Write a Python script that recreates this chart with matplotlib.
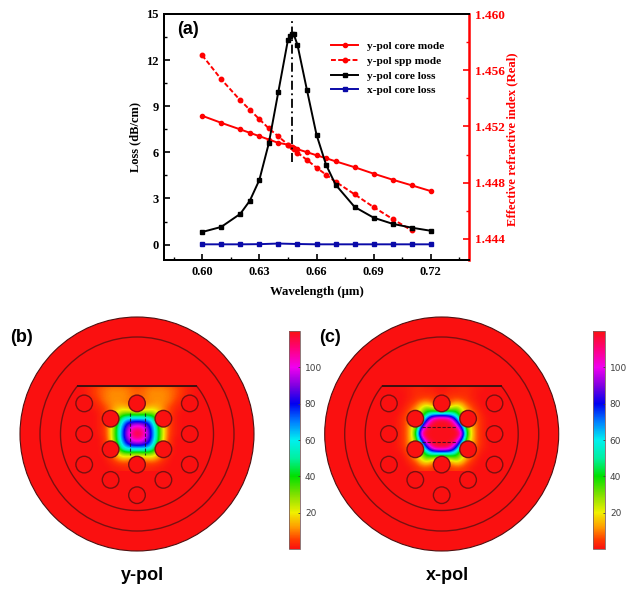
import matplotlib
matplotlib.use("Agg")
import matplotlib.pyplot as plt
import numpy as np
from matplotlib.colors import LinearSegmentedColormap, Normalize
from matplotlib.cm import ScalarMappable
from matplotlib.patches import Circle, Polygon

# panel (a) data
wl_core = [0.60, 0.61, 0.62, 0.625, 0.63, 0.635, 0.64, 0.645, 0.647, 0.648, 0.65,
           0.655, 0.66, 0.665, 0.67, 0.68, 0.69, 0.70, 0.71, 0.72]
n_core = [1.45276, 1.45226, 1.45179, 1.45155, 1.45131, 1.45107, 1.45083, 1.45071, 1.45057, 1.4505,
          1.45038, 1.45017, 1.44995, 1.44974, 1.44952, 1.4491, 1.44864, 1.44821, 1.44781, 1.4474]
wl_spp = [0.60, 0.61, 0.62, 0.625, 0.63, 0.635, 0.64, 0.645, 0.647, 0.648, 0.65,
          0.655, 0.66, 0.665, 0.67, 0.68, 0.69, 0.70, 0.71]
n_spp = [1.45707, 1.45536, 1.45386, 1.45319, 1.45252, 1.45186, 1.45129, 1.45071, 1.45052, 1.45043,
         1.45014, 1.44962, 1.44907, 1.44857, 1.44807, 1.44717, 1.44626, 1.44541, 1.4446]
wl_loss = [0.60, 0.61, 0.62, 0.625, 0.63, 0.635, 0.64, 0.645, 0.646, 0.647, 0.648, 0.65,
           0.655, 0.66, 0.665, 0.67, 0.68, 0.69, 0.70, 0.71, 0.72]
loss_y = [0.82, 1.15, 2.0, 2.85, 4.2, 6.6, 9.95, 13.3, 13.55, 13.7, 13.7, 13.0,
          10.05, 7.15, 5.2, 3.9, 2.45, 1.75, 1.35, 1.1, 0.9]
wl_x = [0.60, 0.61, 0.62, 0.63, 0.64, 0.65, 0.66, 0.67, 0.68, 0.69, 0.70, 0.71, 0.72]
loss_x = [0.02, 0.02, 0.02, 0.03, 0.07, 0.04, 0.02, 0.02, 0.02, 0.02, 0.02, 0.02, 0.02]
peak_wl = [0.647, 0.647]
peak_span = [5.4, 14.6]

# panels (b), (c): field, right half only, 5 px grid
field_x = list(range(0, 65, 5))
field_y = list(range(-50, 40, 5))
field_ypol = [
    [3, 3, 4, 5, 6, 6, 5, 4, 3, 2, 1, 0, 0],
    [7, 8, 9, 10, 10, 10, 9, 8, 6, 4, 2, 1, 0],
    [8, 8, 10, 11, 11, 11, 10, 8, 6, 4, 2, 1, 0],
    [8, 9, 10, 11, 11, 11, 10, 8, 5, 3, 1, 0, 0],
    [9, 10, 10, 11, 12, 11, 9, 6, 3, 2, 1, 0, 0],
    [12, 13, 15, 18, 15, 11, 7, 4, 2, 1, 0, 0, 0],
    [30, 32, 32, 30, 22, 13, 7, 3, 1, 0, 0, 0, 0],
    [62, 62, 60, 52, 32, 16, 7, 3, 1, 0, 0, 0, 0],
    [92, 90, 82, 64, 40, 21, 8, 3, 1, 0, 0, 0, 0],
    [110, 106, 92, 72, 45, 24, 8, 3, 1, 0, 0, 0, 0],
    [118, 112, 96, 74, 46, 24, 8, 3, 1, 0, 0, 0, 0],
    [110, 106, 92, 72, 45, 23, 7, 2, 0, 0, 0, 0, 0],
    [92, 90, 82, 64, 40, 19, 6, 2, 0, 0, 0, 0, 0],
    [62, 62, 60, 52, 32, 14, 5, 1, 0, 0, 0, 0, 0],
    [30, 32, 32, 30, 18, 9, 3, 1, 0, 0, 0, 0, 0],
    [10, 11, 13, 14, 10, 5, 2, 0, 0, 0, 0, 0, 0],
    [5, 5, 5, 5, 4, 2, 1, 0, 0, 0, 0, 0, 0],
    [2, 2, 2, 2, 1, 1, 0, 0, 0, 0, 0, 0, 0],
]
field_xpol = [
    [0, 0, 1, 1, 1, 1, 1, 1, 0, 0, 0, 0, 0],
    [1, 1, 2, 2, 3, 3, 2, 1, 1, 0, 0, 0, 0],
    [1, 2, 3, 3, 3, 3, 2, 1, 0, 0, 0, 0, 0],
    [3, 4, 5, 6, 5, 4, 2, 1, 0, 0, 0, 0, 0],
    [6, 8, 10, 14, 12, 7, 4, 2, 0, 0, 0, 0, 0],
    [20, 22, 26, 32, 22, 12, 7, 3, 1, 0, 0, 0, 0],
    [55, 55, 54, 44, 28, 16, 10, 5, 2, 0, 0, 0, 0],
    [113, 112, 100, 70, 38, 20, 12, 6, 3, 1, 0, 0, 0],
    [119, 119, 116, 98, 60, 28, 15, 7, 3, 1, 0, 0, 0],
    [119, 119, 119, 116, 88, 36, 17, 7, 3, 1, 0, 0, 0],
    [119, 119, 119, 119, 110, 45, 18, 7, 3, 1, 0, 0, 0],
    [119, 119, 119, 116, 88, 36, 17, 7, 3, 1, 0, 0, 0],
    [119, 119, 116, 98, 60, 28, 15, 7, 3, 1, 0, 0, 0],
    [113, 112, 100, 70, 38, 20, 12, 6, 2, 1, 0, 0, 0],
    [55, 55, 54, 44, 28, 16, 10, 4, 1, 0, 0, 0, 0],
    [20, 22, 26, 32, 22, 12, 6, 2, 0, 0, 0, 0, 0],
    [6, 8, 10, 14, 12, 6, 3, 1, 0, 0, 0, 0, 0],
    [2, 3, 4, 5, 4, 3, 1, 0, 0, 0, 0, 0, 0],
]
cbar_ticks = [20, 40, 60, 80, 100]

RED = "#fa1010"
RING = "#7a1010"
stops = [(0, RED), (5, "#ff3c00"), (12, "#ff9c00"), (20, "#f0f000"), (30, "#80e000"),
         (40, "#00e000"), (50, "#00f0a0"), (60, "#00f0f0"), (70, "#0080ff"), (80, "#0000f0"),
         (90, "#8000e0"), (100, "#f000f0"), (110, "#ff0080"), (120, RED)]
cmap = LinearSegmentedColormap.from_list("mode", [(v / 120, c) for v, c in stops], N=512)
norm = Normalize(0, 120)

W, H = 628, 589
fig = plt.figure(figsize=(W / 100, H / 100), dpi=100)
serif = "Liberation Serif"
sans = "Liberation Sans"


def box(x0, y0, x1, y1):
    return [x0 / W, 1 - y1 / H, (x1 - x0) / W, (y1 - y0) / H]


# panel (a)
ax = fig.add_axes(box(164, 14, 469, 260))
ax2 = ax.twinx()
ax.set_zorder(ax2.get_zorder() + 1)
ax.patch.set_visible(False)

l1, = ax2.plot(wl_core, n_core, "-o", color="red", lw=1.4, ms=3)
l2, = ax2.plot(wl_spp, n_spp, "--o", color="red", lw=1.4, ms=3.2, dashes=(2.5, 1.2))
l3, = ax.plot(wl_loss, loss_y, "-s", color="black", lw=1.4, ms=2.8)
l4, = ax.plot(wl_x, loss_x, "-s", color="#0a0aa8", lw=1.4, ms=3.2)
ax.plot(peak_wl, peak_span, color="black", lw=1.3, ls=(0, (5, 2, 1, 2)))

ax.set_xlim(0.58, 0.74)
ax.set_ylim(-1, 15)
ax2.set_ylim(1.4425, 1.46)
ax.set_xticks([0.60, 0.63, 0.66, 0.69, 0.72])
ax.set_xticks([0.585, 0.615, 0.645, 0.675, 0.705, 0.735], minor=True)
ax.set_yticks([0, 3, 6, 9, 12, 15])
ax.set_yticks([1.5, 4.5, 7.5, 10.5, 13.5], minor=True)
ax2.set_yticks([1.444, 1.448, 1.452, 1.456, 1.460])
ax2.set_yticks([1.446, 1.450, 1.454, 1.458], minor=True)
ax.set_xticklabels(["0.60", "0.63", "0.66", "0.69", "0.72"], family=serif, weight="bold", fontsize=9)
ax.set_yticklabels(["0", "3", "6", "9", "12", "15"], family=serif, weight="bold", fontsize=9)
ax2.set_yticklabels(["1.444", "1.448", "1.452", "1.456", "1.460"], family=serif, weight="bold",
                    fontsize=9.5, color="red")
ax.tick_params(which="major", direction="in", length=4, width=1.2, pad=4)
ax.tick_params(which="minor", direction="in", length=2.2, width=1)
ax2.tick_params(which="major", direction="in", length=4, width=1.2, color="red", pad=4)
ax2.tick_params(which="minor", direction="in", length=2.2, width=1, color="red")
for a in (ax, ax2):
    for s in a.spines.values():
        s.set_linewidth(1.4)
ax2.spines["right"].set_color("red")
ax2.spines["right"].set_linewidth(1.8)
ax.spines["right"].set_visible(False)
ax.set_xlabel("Wavelength (μm)", family=serif, weight="bold", fontsize=9.2, labelpad=6)
ax.set_ylabel("Loss (dB/cm)", family=serif, weight="bold", fontsize=9, labelpad=3)
ax2.set_ylabel("Effective refractive index (Real)", family=serif, weight="bold", fontsize=9.2,
               color="red", labelpad=1, y=0.49)
ax.legend([l1, l2, l3, l4], ["y-pol core mode", "y-pol spp mode", "y-pol core loss", "x-pol core loss"],
          loc="upper left", bbox_to_anchor=(0.547, 0.89), frameon=False, borderpad=0, borderaxespad=0,
          handlelength=2.4, handletextpad=0.8, labelspacing=0.42,
          prop={"family": serif, "weight": "bold", "size": 8.2})
fig.text(177 / W, 1 - 30 / H, "(a)", family=sans, weight="bold", fontsize=13, va="center")

# panels (b), (c) drawn in pixel coordinates
pix = fig.add_axes([0, 0, 1, 1])
pix.set_axis_off()


def fibre(cx, cy, half_rows, line_segs):
    pix.add_patch(Circle((cx, cy), 117, fc=RED, ec="#501010", lw=0.8, zorder=1))
    rows = np.array(half_rows, dtype=float)
    full = np.hstack([rows[:, :0:-1], rows])
    dx, dy = field_x[-1] + 2.5, 2.5
    im = pix.imshow(full, cmap=cmap, norm=norm, interpolation="bicubic", interpolation_stage="data",
                    extent=(cx - dx, cx + dx, cy + field_y[-1] + dy, cy + field_y[0] - dy),
                    aspect="auto", zorder=2)
    th0 = np.arcsin(48 / 76.5)
    th = np.linspace(-th0, np.pi + th0, 200)
    d_shape = Polygon(np.c_[cx + 76.5 * np.cos(th), cy + 76.5 * np.sin(th)], closed=True,
                      fc="none", ec=RING, lw=1, zorder=4)
    pix.add_patch(d_shape)
    im.set_clip_path(d_shape)
    pix.plot([cx - 59, cx + 59], [cy - 48, cy - 48], color="#401010", lw=1.4, zorder=5)
    pix.add_patch(Circle((cx, cy), 97, fc="none", ec=RING, lw=1, zorder=4))
    pitch = 30.6
    for col, row in [(0, -1), (-2, -1), (2, -1), (-1, -.5), (1, -.5), (-2, 0), (2, 0), (-1, .5), (1, .5),
                     (0, 1), (-2, 1), (2, 1), (-1, 1.5), (1, 1.5), (0, 2)]:
        pix.add_patch(Circle((cx + col * 26.4, cy + row * pitch), 8.3, fc=RED, ec=RING, lw=1, zorder=4))
    for x0, y0, x1, y1 in line_segs:
        pix.plot([cx + x0, cx + x1], [cy + y0, cy + y1], color="#201020", lw=0.8, ls=(0, (3, 1.5)),
                 alpha=0.8, zorder=5)


fibre(137, 434, field_ypol, [(-7.5, -21, -7.5, 21), (7.5, -21, 7.5, 21)])
fibre(441.7, 434, field_xpol, [(-20, -7, 15, -7), (-20, 8, 15, 8)])
pix.set_xlim(0, W)
pix.set_ylim(H, 0)

for x0, x1 in [(289, 300), (593, 605)]:
    cax = fig.add_axes(box(x0, 331, x1, 549))
    cb = fig.colorbar(ScalarMappable(norm=Normalize(0.2, 119.8), cmap=cmap), cax=cax)
    cb.set_ticks(cbar_ticks)
    cb.ax.tick_params(direction="in", length=1.5, width=0.6, colors="#404040", labelsize=6.5, pad=3.5)
    cb.outline.set_edgecolor("#806060")
    cb.outline.set_linewidth(0.6)

fig.text(10 / W, 1 - 337 / H, "(b)", family=sans, weight="bold", fontsize=13, va="center")
fig.text(319 / W, 1 - 337 / H, "(c)", family=sans, weight="bold", fontsize=13, va="center")
fig.text(142 / W, 1 - 576 / H, "y-pol", family=sans, weight="bold", fontsize=13, ha="center", va="center")
fig.text(447 / W, 1 - 576 / H, "x-pol", family=sans, weight="bold", fontsize=13, ha="center", va="center")

fig.savefig("out.png", dpi=100)
